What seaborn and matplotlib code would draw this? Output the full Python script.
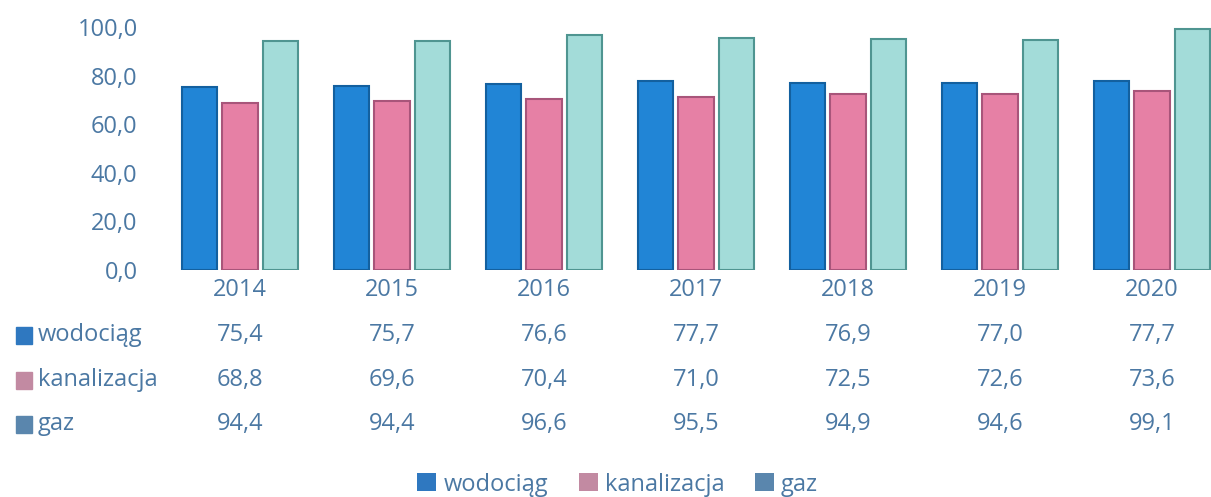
import pandas as pd
import seaborn as sns
import matplotlib.pyplot as plt
from matplotlib.patches import Patch
import matplotlib.transforms as mtransforms

years = ["2014", "2015", "2016", "2017", "2018", "2019", "2020"]
series = ["wodociąg", "kanalizacja", "gaz"]
wodociag = [75.4, 75.7, 76.6, 77.7, 76.9, 77.0, 77.7]
kanalizacja = [68.8, 69.6, 70.4, 71.0, 72.5, 72.6, 73.6]
gaz = [94.4, 94.4, 96.6, 95.5, 94.9, 94.6, 99.1]

colors = ["#2185d6", "#e680a5", "#a3dcd9"]
edges = ["#13609f", "#a8557a", "#4f9591"]
icon_colors = ["#2f78c0", "#c28aa2", "#5a86ad"]
txt = "#4b78a3"

rows = []
for name, vals in zip(series, [wodociag, kanalizacja, gaz]):
    for yr, v in zip(years, vals):
        rows.append({"rok": yr, "seria": name, "wartosc": v})
df = pd.DataFrame(rows)

sns.set_style("white")
plt.rcParams["font.family"] = ["Open Sans", "DejaVu Sans"]
fs = 17

fig = plt.figure(figsize=(12.11, 4.97), dpi=100)
ax = fig.add_axes([164 / 1211, 227 / 497, 1064 / 1211, 243 / 497])

sns.barplot(data=df, x="rok", y="wartosc", hue="seria", hue_order=series,
            palette=colors, saturation=1, width=0.8, gap=0.12, ax=ax,
            legend=False, linewidth=1.5)
for i, cont in enumerate(ax.containers):
    for b in cont:
        b.set_edgecolor(edges[i])

ax.set_ylim(0, 100)
ax.set_xlim(-0.5, 6.5)
ax.set_yticks([0, 20, 40, 60, 80, 100])
ax.set_yticklabels([f"{v:.1f}".replace(".", ",") for v in [0, 20, 40, 60, 80, 100]])
ax.set_xlabel("")
ax.set_ylabel("")
ax.tick_params(axis="both", length=0, labelsize=fs, colors=txt)
ax.tick_params(axis="y", pad=19)
ax.tick_params(axis="x", pad=6)
sns.despine(ax=ax, left=True, bottom=True)

# data table below the chart
trans = mtransforms.blended_transform_factory(ax.transData, fig.transFigure)
row_y = [335, 380, 424]
for r, (name, vals) in enumerate(zip(series, [wodociag, kanalizacja, gaz])):
    yf = 1 - row_y[r] / 497
    for i, v in enumerate(vals):
        ax.text(i, yf, f"{v:.1f}".replace(".", ","), transform=trans,
                ha="center", va="center", fontsize=fs, color=txt, clip_on=False)
    fig.patches.append(plt.Rectangle((16 / 1211, yf - 0.018), 16 / 1211, 0.034,
                                     transform=fig.transFigure, color=icon_colors[r]))
    fig.text(38 / 1211, yf, name, ha="left", va="center", fontsize=fs, color=txt)

handles = [Patch(facecolor=icon_colors[i], edgecolor="none") for i in range(3)]
fig.legend(handles, series, loc="center", bbox_to_anchor=(0.51, 0.025), ncol=3,
           frameon=False, fontsize=fs, labelcolor=txt, handlelength=0.8,
           handleheight=0.8, handletextpad=0.3, columnspacing=1.3)

fig.savefig("out.png", dpi=100)
